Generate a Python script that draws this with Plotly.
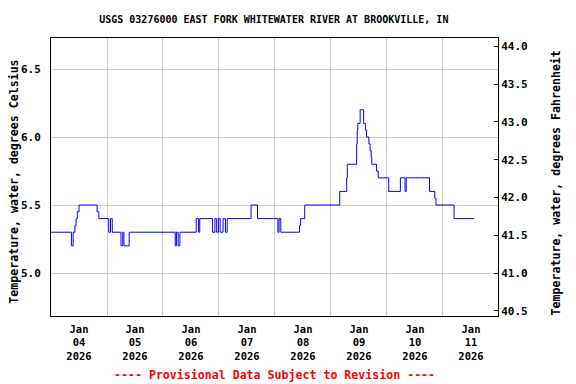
import plotly.graph_objects as go

# ---- data (change points of the 15-minute record) ----
times = [
    "2026-01-04 00:00", "2026-01-04 08:45", "2026-01-04 09:30", "2026-01-04 10:15",
    "2026-01-04 10:45", "2026-01-04 11:15", "2026-01-04 12:00", "2026-01-04 19:45",
    "2026-01-04 20:30", "2026-01-05 00:45", "2026-01-05 01:30", "2026-01-05 02:15",
    "2026-01-05 06:00", "2026-01-05 06:45", "2026-01-05 07:15", "2026-01-05 09:30",
    "2026-01-06 05:15", "2026-01-06 05:45", "2026-01-06 06:30", "2026-01-06 07:15",
    "2026-01-06 14:15", "2026-01-06 15:15", "2026-01-06 15:45", "2026-01-06 21:15",
    "2026-01-06 22:15", "2026-01-06 23:00", "2026-01-06 23:45", "2026-01-07 00:30",
    "2026-01-07 01:45", "2026-01-07 02:45", "2026-01-07 03:30", "2026-01-07 13:45",
    "2026-01-07 16:30", "2026-01-08 01:15", "2026-01-08 01:45", "2026-01-08 02:30",
    "2026-01-08 10:30", "2026-01-08 11:00", "2026-01-08 12:45", "2026-01-09 03:45",
    "2026-01-09 06:45", "2026-01-09 07:00", "2026-01-09 11:00", "2026-01-09 11:15",
    "2026-01-09 11:30", "2026-01-09 12:30", "2026-01-09 14:00", "2026-01-09 14:45",
    "2026-01-09 15:15", "2026-01-09 16:15", "2026-01-09 16:45", "2026-01-09 17:15",
    "2026-01-09 17:30", "2026-01-09 19:30", "2026-01-09 20:15", "2026-01-10 00:45",
    "2026-01-10 05:45", "2026-01-10 07:45", "2026-01-10 08:15", "2026-01-10 18:15",
    "2026-01-10 20:30", "2026-01-10 21:00", "2026-01-11 04:45", "2026-01-11 13:15",
]
temps_c = [
    5.3, 5.2, 5.3, 5.35,
    5.4, 5.45, 5.5, 5.45,
    5.4, 5.3, 5.4, 5.3,
    5.2, 5.3, 5.2, 5.3,
    5.2, 5.3, 5.2, 5.3,
    5.4, 5.3, 5.4, 5.3,
    5.4, 5.3, 5.4, 5.3,
    5.4, 5.3, 5.4, 5.5,
    5.4, 5.3, 5.4, 5.3,
    5.35, 5.4, 5.5, 5.6,
    5.7, 5.8, 5.95, 6.05,
    6.1, 6.2, 6.1, 6.05,
    6.0, 5.95, 5.9, 5.85,
    5.8, 5.75, 5.7, 5.6,
    5.7, 5.6, 5.7, 5.6,
    5.55, 5.5, 5.4, 5.4,
]

tick_times = ["2026-01-04 12:00", "2026-01-05 12:00", "2026-01-06 12:00", "2026-01-07 12:00",
              "2026-01-08 12:00", "2026-01-09 12:00", "2026-01-10 12:00", "2026-01-11 12:00"]
tick_labels = ["Jan<br>04<br>2026", "Jan<br>05<br>2026", "Jan<br>06<br>2026", "Jan<br>07<br>2026",
               "Jan<br>08<br>2026", "Jan<br>09<br>2026", "Jan<br>10<br>2026", "Jan<br>11<br>2026"]
grid_times = ["2026-01-05", "2026-01-06", "2026-01-07", "2026-01-08",
              "2026-01-09", "2026-01-10", "2026-01-11"]
left_ticks = [5.0, 5.5, 6.0, 6.5]
right_ticks = [40.5, 41.0, 41.5, 42.0, 42.5, 43.0, 43.5, 44.0]

title_text = "USGS 03276000 EAST FORK WHITEWATER RIVER AT BROOKVILLE, IN"
footer_text = "---- Provisional Data Subject to Revision ----"
left_title = "Temperature, water, degrees Celsius"
right_title = "Temperature, water, degrees Fahrenheit"

c_range = [4.684, 6.728]
f_range = [c * 1.8 + 32 for c in c_range]
temps_f = [c * 1.8 + 32 for c in temps_c]

FONT = "DejaVu Sans Mono"

fig = go.Figure()
fig.add_trace(go.Scatter(x=times, y=temps_c, mode="lines", line=dict(color="#0000ff", width=1, shape="hv"),
                         showlegend=False, hoverinfo="skip"))
fig.add_trace(go.Scatter(x=times, y=temps_f, mode="lines", line=dict(color="rgba(0,0,0,0)", width=0, shape="hv"),
                         yaxis="y2", showlegend=False, hoverinfo="skip"))

# page body has an 8px margin, so the figure is sized 568x376 and offset accordingly
fig.update_layout(
    width=568, height=376,
    margin=dict(l=43, r=78, t=30, b=68, autoexpand=False),
    paper_bgcolor="white", plot_bgcolor="white",
    font=dict(family=FONT, size=10, color="black"),
    title=dict(text="<b>" + title_text + "</b>", x=0.468, xanchor="center", y=0.9707, yanchor="middle",
               xref="container", yref="container", font=dict(family=FONT, size=10, color="black")),
    xaxis=dict(
        type="date", range=["2026-01-04 00:00", "2026-01-11 23:35"], automargin=False,
        tickmode="array", tickvals=tick_times, ticktext=["<b>" + t + "</b>" for t in tick_labels],
        showgrid=False, ticks="outside", ticklen=3, tickcolor="rgba(0,0,0,0)",
        minor=dict(tickmode="array", tickvals=grid_times, showgrid=True, gridcolor="#cccccc", gridwidth=1, ticks=""),
        showline=True, linecolor="black", linewidth=1, mirror=True, zeroline=False,
        tickfont=dict(family=FONT, size=10.5, color="black"),
    ),
    yaxis=dict(
        range=c_range, tickmode="array", tickvals=left_ticks, ticktext=["<b>%.1f</b>" % v for v in left_ticks],
        showgrid=True, gridcolor="#cccccc", gridwidth=1, automargin=False,
        ticks="outside", ticklen=7, tickcolor="rgba(0,0,0,0)",
        showline=True, linecolor="black", linewidth=1, zeroline=False,
        tickfont=dict(family=FONT, size=11, color="black"),
    ),
    yaxis2=dict(
        overlaying="y", side="right", range=f_range, automargin=False,
        tickmode="array", tickvals=right_ticks, ticktext=["<b>%.1f</b>" % v for v in right_ticks],
        showgrid=False, ticks="inside", ticklen=4, tickcolor="black", tickwidth=1,
        showline=True, linecolor="black", linewidth=1, zeroline=False,
        tickfont=dict(family=FONT, size=11, color="black"),
    ),
    annotations=[
        dict(text="<b>" + footer_text + "</b>", x=0.5, y=-0.212, xref="paper", yref="paper",
             xanchor="center", yanchor="middle", showarrow=False,
             font=dict(family=FONT, size=11.6, color="red")),
        dict(text="<b>" + left_title + "</b>", x=-0.0828, y=0.483, xref="paper", yref="paper",
             xanchor="center", yanchor="middle", textangle=-90, showarrow=False,
             font=dict(family=FONT, size=11.6, color="black")),
        dict(text="<b>" + right_title + "</b>", x=1.1298, y=0.477, xref="paper", yref="paper",
             xanchor="center", yanchor="middle", textangle=-90, showarrow=False,
             font=dict(family=FONT, size=11.6, color="black")),
    ],
)

fig.write_html("out.html")
